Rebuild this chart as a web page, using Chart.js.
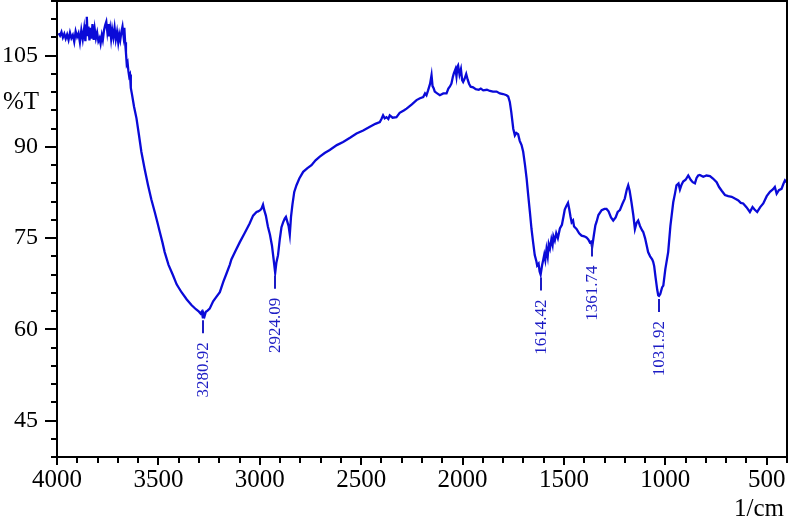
<!DOCTYPE html>
<html>
<head>
<meta charset="utf-8">
<script src="https://cdn.jsdelivr.net/npm/chart.js@4.4.1/dist/chart.umd.min.js"></script>
<style>
    body { margin: 0; background: #fff; }
    #chartBox { width: 788px; height: 526px; }
</style>
</head>
<body>
<div id="chartBox"><canvas id="myChart" width="788" height="526"></canvas></div>
<script>
// spectrum: wavenumber (1/cm) and transmittance (%T)
let waveNumbers = [
    3992, 3985, 3978, 3971, 3964, 3957, 3950, 3943, 3936, 3929, 3922, 3915, 3908, 3901, 3894, 3887, 3880, 3873, 3866, 3860,
    3856, 3853, 3849, 3845, 3840, 3835, 3830, 3825, 3819, 3814, 3808, 3802, 3796, 3790, 3785, 3779, 3774, 3768, 3762, 3757,
    3752, 3748, 3744, 3738, 3733, 3728, 3722, 3716, 3710, 3704, 3698, 3693, 3688, 3682, 3677, 3672, 3668, 3664, 3660, 3656,
    3652, 3648, 3644, 3640, 3636, 3630, 3620, 3608, 3596, 3584, 3568, 3551, 3535, 3518, 3505, 3493, 3480, 3469, 3450, 3428,
    3410, 3386, 3360, 3337, 3315, 3300, 3292, 3286, 3283, 3280, 3277, 3272, 3266, 3260, 3247, 3230, 3215, 3197, 3180, 3165,
    3148, 3140, 3120, 3099, 3075, 3050, 3033, 3016, 3008, 2998, 2992, 2984, 2978, 2970, 2960, 2950, 2940, 2932, 2924, 2918,
    2910, 2901, 2893, 2885, 2877, 2871, 2865, 2858, 2852, 2846, 2839, 2830, 2819, 2805, 2786, 2765, 2745, 2725, 2704, 2680,
    2655, 2620, 2589, 2555, 2523, 2490, 2457, 2430, 2408, 2400, 2392, 2384, 2375, 2366, 2359, 2345, 2326, 2310, 2290, 2276,
    2250, 2227, 2210, 2194, 2185, 2178, 2170, 2160, 2153, 2148, 2142, 2137, 2125, 2112, 2095, 2079, 2070, 2063, 2055, 2048,
    2043, 2035, 2030, 2025, 2022, 2015, 2008, 2002, 1997, 1990, 1982, 1975, 1968, 1960, 1948, 1935, 1920, 1910, 1898, 1880,
    1865, 1850, 1832, 1816, 1800, 1783, 1775, 1767, 1760, 1750, 1742, 1735, 1726, 1718, 1709, 1701, 1692, 1684, 1676, 1668,
    1660, 1652, 1644, 1636, 1632, 1625, 1620, 1615, 1608, 1603, 1597, 1592, 1586, 1580, 1575, 1569, 1562, 1556, 1552, 1545,
    1538, 1530, 1520, 1510, 1502, 1496, 1488, 1480, 1474, 1468, 1462, 1455, 1450, 1438, 1425, 1413, 1400, 1389, 1380, 1372,
    1366, 1361, 1352, 1345, 1339, 1330, 1314, 1300, 1290, 1280, 1268, 1257, 1245, 1235, 1224, 1212, 1200, 1190, 1183, 1176,
    1167, 1158, 1150, 1142, 1134, 1125, 1115, 1109, 1100, 1090, 1085, 1075, 1065, 1060, 1055, 1048, 1040, 1035, 1031, 1025,
    1016, 1010, 1000, 986, 975, 961, 952, 945, 935, 928, 920, 912, 900, 887, 875, 865, 854, 846, 838, 830,
    813, 797, 780, 765, 747, 735, 722, 706, 690, 673, 657, 640, 628, 616, 600, 583, 570, 560, 547, 532,
    517, 500, 484, 470, 460, 451, 440, 427, 418, 410, 402
];
let transmittance = [
    108.7, 108.3, 108.9, 108.0, 108.6, 107.8, 108.5, 107.6, 108.8, 107.9, 108.4, 107.3, 109.0, 108.1, 108.7, 107.2, 109.2, 107.7, 109.5, 107.4,
    110.0, 111.4, 108.2, 109.8, 107.5, 109.6, 107.8, 110.2, 107.6, 109.4, 107.9, 108.8, 107.4, 107.9, 107.0, 108.4, 107.6, 109.2, 110.1, 110.6,
    109.0, 110.2, 108.2, 109.5, 107.8, 109.3, 108.0, 109.6, 107.7, 108.9, 107.2, 108.5, 107.6, 109.0, 109.8, 108.3, 109.6, 107.2, 105.5, 103.6,
    103.9, 102.5, 101.6, 101.9, 99.7, 98.6, 96.6, 94.7, 92.0, 89.2, 86.4, 83.7, 81.4, 79.3, 77.6, 76.0, 74.3, 72.7, 70.6, 68.9,
    67.4, 66.1, 64.9, 64.0, 63.3, 62.9, 62.6, 62.9, 62.3, 61.8, 62.6, 62.2, 62.9, 63.0, 63.4, 64.6, 65.3, 66.1, 67.8, 69.1,
    70.6, 71.5, 72.9, 74.3, 75.8, 77.4, 78.7, 79.3, 79.4, 79.6, 79.8, 80.5, 79.6, 78.7, 76.9, 75.6, 73.8, 71.6, 69.3, 71.0,
    72.2, 74.9, 76.8, 77.6, 78.2, 78.5, 77.8, 77.0, 75.6, 78.5, 80.5, 82.6, 83.7, 84.8, 85.9, 86.5, 87.0, 87.8, 88.4, 89.0,
    89.5, 90.3, 90.8, 91.5, 92.2, 92.7, 93.3, 93.8, 94.1, 94.6, 95.2, 94.7, 94.9, 94.6, 95.2, 94.8, 94.9, 95.6, 96.0, 96.3,
    97.0, 97.7, 98.0, 98.2, 98.8, 98.5, 99.3, 100.4, 101.8, 100.0, 99.6, 99.1, 98.8, 98.5, 98.8, 98.8, 99.6, 99.9, 100.4, 101.5,
    102.1, 102.8, 101.6, 103.2, 103.4, 101.9, 102.8, 101.0, 100.7, 101.2, 102.0, 101.1, 100.4, 99.9, 99.8, 99.5, 99.4, 99.6, 99.3, 99.4,
    99.2, 99.1, 99.1, 98.8, 98.7, 98.5, 98.3, 97.4, 95.8, 93.0, 91.9, 92.3, 92.1, 91.0, 90.3, 89.2, 87.0, 84.8, 82.0, 79.3,
    76.5, 74.3, 72.2, 71.2, 70.5, 70.8, 69.5, 69.0, 70.5, 71.3, 72.3, 71.4, 73.2, 72.0, 74.0, 73.3, 74.8, 73.9, 75.3, 74.6,
    75.8, 75.0, 76.6, 77.2, 78.6, 79.7, 80.3, 80.8, 79.8, 78.6, 77.6, 77.9, 76.9, 76.5, 75.8, 75.4, 75.3, 75.1, 74.8, 74.3,
    74.4, 73.5, 75.6, 77.1, 77.7, 78.8, 79.6, 79.8, 79.8, 79.4, 78.4, 77.9, 78.4, 79.3, 79.6, 80.6, 81.5, 83.0, 83.7, 82.8,
    80.9, 78.8, 76.5, 77.5, 77.9, 77.0, 76.3, 76.0, 75.0, 73.5, 72.7, 72.0, 71.5, 71.1, 70.4, 68.5, 66.5, 65.6, 65.5, 65.8,
    66.9, 67.2, 69.9, 72.7, 77.0, 80.9, 82.4, 83.7, 84.0, 83.0, 83.8, 84.3, 84.6, 85.3, 84.6, 84.2, 84.0, 84.9, 85.3, 85.4,
    85.1, 85.3, 85.2, 84.8, 84.2, 83.4, 82.8, 82.1, 81.9, 81.8, 81.5, 81.2, 80.8, 80.7, 80.1, 79.3, 80.1, 79.7, 79.3, 80.1,
    80.7, 81.9, 82.6, 83.0, 83.4, 82.3, 82.9, 83.1, 83.9, 84.5, 84.2
];

// marked peaks
let peakWaves = [3280.92, 2924.09, 1614.42, 1361.74, 1031.92];
let peakValues = [62.0, 69.3, 69.0, 74.6, 65.5];

// axis ticks
let xMajorTicks = [4000, 3500, 3000, 2500, 2000, 1500, 1000, 500];
let yMajorTicks = [45, 60, 75, 90, 105];

const lineColor = '#0a0ad8';
const labelColor = '#1c1cc4';
const serif = "'Liberation Serif', 'Times New Roman', serif";

function buildPoints() {
    let points = [];
    for (let i = 0; i < waveNumbers.length; i++) {
        points.push({ x: waveNumbers[i], y: transmittance[i] });
    }
    return points;
}

// no extra room for half labels at the ends of the axes
function fitNoPadding(scale, size) {
    if (scale.isHorizontal()) {
        scale.height = size;
    } else {
        scale.width = size;
    }
    scale.paddingTop = 0;
    scale.paddingBottom = 0;
    scale.paddingLeft = 0;
    scale.paddingRight = 0;
}

// top/right frame, longer major ticks, axis captions and peak labels
const extrasPlugin = {
    id: 'extras',
    afterDraw(chart) {
        let ctx = chart.ctx;
        let area = chart.chartArea;
        let xScale = chart.scales.x;
        let yScale = chart.scales.y;
        ctx.save();
        ctx.strokeStyle = '#000';
        ctx.lineWidth = 2;
        ctx.beginPath();
        ctx.moveTo(area.left, area.top);
        ctx.lineTo(area.right, area.top);
        ctx.lineTo(area.right, area.bottom);
        ctx.stroke();

        ctx.beginPath();
        for (let i = 0; i < xMajorTicks.length; i++) {
            let px = Math.round(xScale.getPixelForValue(xMajorTicks[i]));
            ctx.moveTo(px, area.bottom);
            ctx.lineTo(px, area.bottom + 8);
        }
        for (let i = 0; i < yMajorTicks.length; i++) {
            let py = Math.round(yScale.getPixelForValue(yMajorTicks[i]));
            ctx.moveTo(area.left, py);
            ctx.lineTo(area.left - 12, py);
        }
        ctx.stroke();

        ctx.fillStyle = '#000';
        ctx.font = '25px ' + serif;
        ctx.textAlign = 'left';
        ctx.textBaseline = 'alphabetic';
        ctx.fillText('%T', 3, 109);
        ctx.textAlign = 'right';
        ctx.fillText('1/cm', 784, 516);

        ctx.strokeStyle = labelColor;
        ctx.fillStyle = labelColor;
        ctx.font = '17px ' + serif;
        for (let i = 0; i < peakWaves.length; i++) {
            let px = Math.round(xScale.getPixelForValue(peakWaves[i]));
            let py = yScale.getPixelForValue(peakValues[i]) + 3;
            ctx.beginPath();
            ctx.moveTo(px, py);
            ctx.lineTo(px, py + 13);
            ctx.stroke();
            ctx.save();
            ctx.translate(px + 1, py + 22);
            ctx.rotate(-Math.PI / 2);
            ctx.textAlign = 'right';
            ctx.textBaseline = 'middle';
            ctx.fillText(peakWaves[i].toFixed(2), 0, 0);
            ctx.restore();
        }
        ctx.restore();
    }
};

function loadChart() {
    const ctx = document.getElementById('myChart');
    new Chart(ctx, {
        type: 'line',
        data: {
            datasets: [{
                data: buildPoints(),
                borderColor: lineColor,
                borderWidth: 2.3,
                pointRadius: 0,
                tension: 0
            }]
        },
        options: {
            responsive: false,
            animation: false,
            devicePixelRatio: 1,
            layout: { padding: { top: 1, right: 1, left: 0, bottom: 0 } },
            plugins: { legend: { display: false }, tooltip: { enabled: false } },
            scales: {
                x: {
                    type: 'linear',
                    reverse: true,
                    min: 400,
                    max: 4000,
                    afterFit: (scale) => fitNoPadding(scale, 69),
                    border: { color: '#000', width: 2 },
                    grid: { drawOnChartArea: false, drawTicks: true, tickLength: 6, color: '#000', lineWidth: 2 },
                    ticks: {
                        stepSize: 100,
                        autoSkip: false,
                        maxRotation: 0,
                        padding: 2,
                        color: '#000',
                        font: { family: serif, size: 25 },
                        callback: (value) => (value % 500 === 0 ? String(value) : '')
                    }
                },
                y: {
                    min: 39,
                    max: 114,
                    afterFit: (scale) => fitNoPadding(scale, 57),
                    border: { color: '#000', width: 2 },
                    grid: { drawOnChartArea: false, drawTicks: true, tickLength: 6, color: '#000', lineWidth: 2 },
                    ticks: {
                        stepSize: 3,
                        autoSkip: false,
                        padding: 13,
                        color: '#000',
                        font: { family: serif, size: 24 },
                        callback: (value) => (value % 15 === 0 ? String(value) : '')
                    }
                }
            }
        },
        plugins: [extrasPlugin]
    });
}

loadChart();
</script>
</body>
</html>
